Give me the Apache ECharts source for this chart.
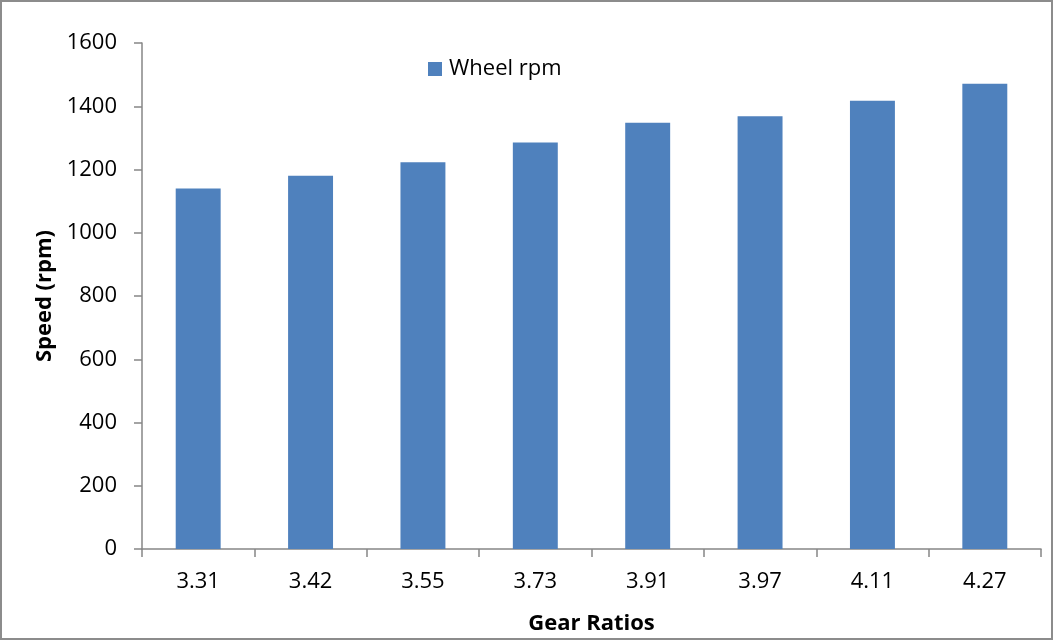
<!DOCTYPE html>
<html>
<head>
<meta charset="utf-8">
<script src="https://cdn.jsdelivr.net/npm/echarts@6/dist/echarts.min.js"></script>
<style>
  html, body { margin: 0; padding: 0; background: #fff; }
  #chart { width: 1054px; height: 641px; }
</style>
</head>
<body>
<div id="chart"></div>
<script>
// Gear ratios on the category axis, wheel speed in rpm on the value axis
const gearRatios = ['3.31', '3.42', '3.55', '3.73', '3.91', '3.97', '4.11', '4.27'];
const wheelRpm = [1140, 1180, 1223, 1285, 1348, 1368, 1417, 1471];
const seriesName = 'Wheel rpm';
const xTitle = 'Gear Ratios';
const yTitle = 'Speed (rpm)';

const FONT = '"Open Sans", "Liberation Sans", sans-serif';
const AXIS_GRAY = '#868686';

const chart = echarts.init(document.getElementById('chart'), null, { renderer: 'canvas' });

chart.setOption({
  animation: false,
  backgroundColor: '#ffffff',
  textStyle: { fontFamily: FONT },
  graphic: [{
    type: 'rect',
    shape: { x: 1, y: 1, width: 1051, height: 638 },
    style: { fill: 'none', stroke: '#8c8c8c', lineWidth: 2 },
    silent: true
  }],
  grid: { left: 142, right: 13, top: 43, bottom: 92, containLabel: false },
  legend: {
    left: 428,
    top: 58,
    padding: 0,
    itemWidth: 14,
    itemHeight: 14,
    icon: 'rect',
    textStyle: { fontFamily: FONT, fontSize: 22, color: '#000', padding: [0, 0, 0, 2] },
    data: [seriesName]
  },
  xAxis: {
    type: 'category',
    data: gearRatios,
    boundaryGap: true,
    name: xTitle,
    nameLocation: 'middle',
    nameGap: 64,
    nameTextStyle: { fontFamily: FONT, fontSize: 22, fontWeight: 'bold', color: '#000' },
    axisLine: { show: true, lineStyle: { color: AXIS_GRAY, width: 1.5 } },
    axisTick: { show: true, alignWithLabel: false, length: 8, lineStyle: { color: AXIS_GRAY, width: 1.5 } },
    axisLabel: { fontFamily: FONT, fontSize: 22, color: '#000', margin: 22 },
    splitLine: { show: false }
  },
  yAxis: {
    type: 'value',
    min: 0,
    max: 1600,
    interval: 200,
    name: yTitle,
    nameLocation: 'middle',
    nameGap: 86,
    nameRotate: 90,
    nameTextStyle: { fontFamily: FONT, fontSize: 22, fontWeight: 'bold', color: '#000' },
    axisLine: { show: true, lineStyle: { color: AXIS_GRAY, width: 1.5 } },
    axisTick: { show: true, length: 8, lineStyle: { color: AXIS_GRAY, width: 1.5 } },
    axisLabel: { fontFamily: FONT, fontSize: 22, color: '#000', margin: 25, formatter: (v) => String(v) },
    splitLine: { show: false }
  },
  series: [{
    name: seriesName,
    type: 'bar',
    data: wheelRpm,
    barWidth: '40%',
    itemStyle: { color: '#4F81BD' }
  }]
});
</script>
</body>
</html>
